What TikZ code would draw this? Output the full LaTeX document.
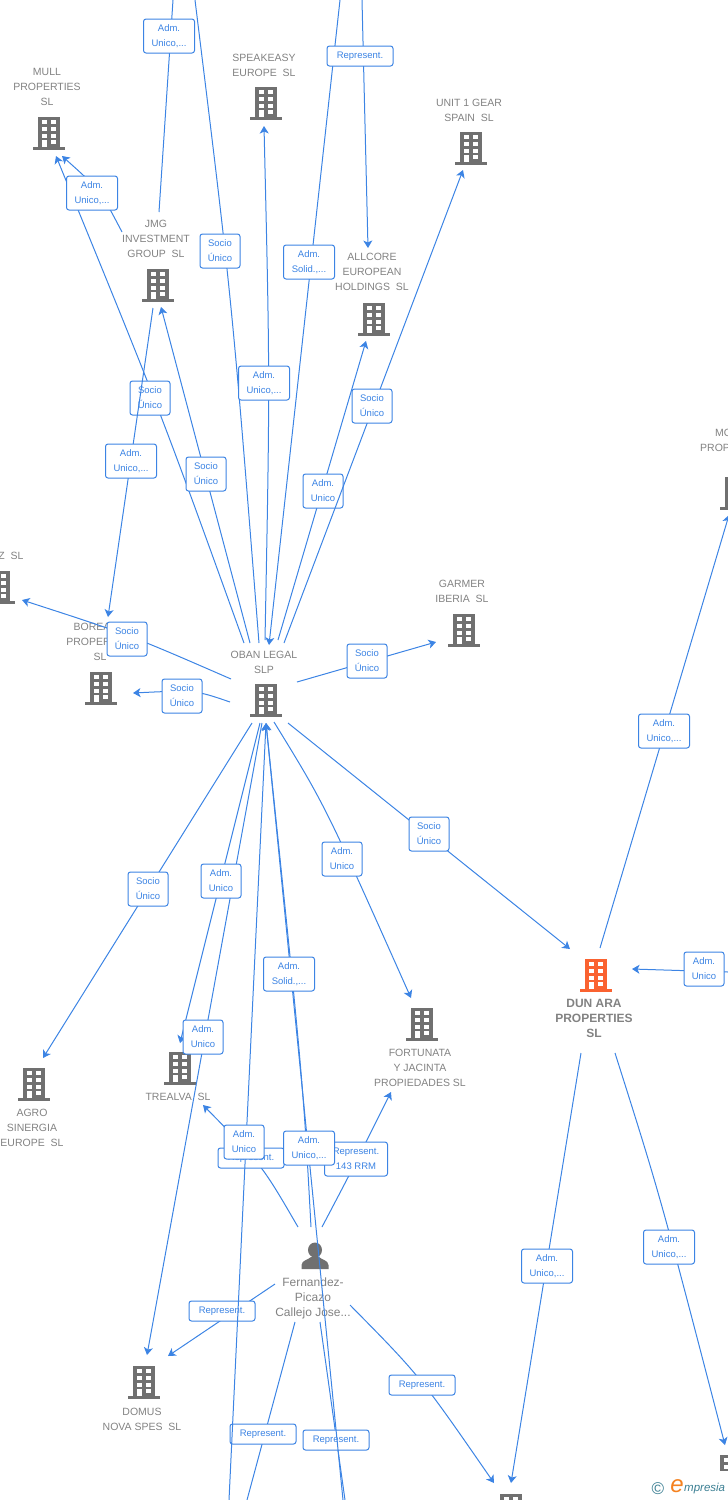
\documentclass[tikz,border=0pt]{standalone}
\usepackage{fontspec}
\setmainfont{Liberation Sans}
\usepackage{xcolor}
\usetikzlibrary{arrows.meta}
\definecolor{link-blue}{HTML}{3C84E4}
\definecolor{icon-grey}{HTML}{707070}
\definecolor{label-grey}{HTML}{828282}
\definecolor{icon-red}{HTML}{FA6230}
\definecolor{logo-teal}{HTML}{3B7F93}
\definecolor{logo-orange}{HTML}{F58220}
\tikzset{
    building/.style = {rectangle, inner sep=0pt, minimum width=32pt, minimum height=34pt, path picture={
        \begin{scope}[shift={(path picture bounding box.center)}]
        \fill[#1] (-11,-16) rectangle (11,14);
        \fill[#1] (-16,14) rectangle (16,17);
        \foreach \rowy in {-13,-6.3,0.5} {
            \fill[white] (-7,\rowy) rectangle (-2,\rowy+4.2);
            \fill[white] (2,\rowy) rectangle (7,\rowy+4.2);
        }
        \fill[white] (-7,7) rectangle (-2,14);
        \fill[white] (2,7) rectangle (7,11);
        \end{scope}
    }},
    building/.default = icon-grey,
    person/.style = {rectangle, inner sep=0pt, minimum width=30pt, minimum height=30pt, path picture={
        \begin{scope}[shift={(path picture bounding box.center)}]
        \fill[icon-grey] (0,-6) ellipse (7 and 7.5);
        \fill[icon-grey] (-13.5,13) -- (-13.5,9) .. controls (-13,4) and (-7,4) .. (-4,1) -- (4,1) .. controls (7,4) and (13,4) .. (13.5,9) -- (13.5,13) -- cycle;
        \end{scope}
    }},
    name-label/.style = {text=label-grey, align=center, inner sep=0pt, font=\fontsize{10.5}{15}\selectfont},
    link/.style = {draw=link-blue, line width=1pt},
    link-tip/.style = {link, -{Stealth[length=7.5pt,width=9pt,inset=2pt]}},
    tag-box/.style = {draw=link-blue, fill=white, line width=1pt, rectangle, rounded corners=2.5pt, text=link-blue, align=center, inner sep=0pt, font=\fontsize{9.5}{15}\selectfont, execute at begin node={\vspace*{1.6pt}}},
    tag-socio/.style = {tag-box, minimum width=40pt, minimum height=34pt},
    tag-adm/.style = {tag-box, minimum width=51pt, minimum height=34pt},
    tag-rep/.style = {tag-box, minimum width=66pt, minimum height=20pt},
}
\begin{document}
\begin{tikzpicture}[x=1pt,y=-1pt]
\useasboundingbox (0,0) rectangle (728,1500);

\node[building] (mull) at (49,133) {};
\node[name-label] (mull-name) at (47,87) {MULL\\PROPERTIES\\SL};
\node[building] (speakeasy) at (266,103) {};
\node[name-label] (speakeasy-name) at (264,65) {SPEAKEASY\\EUROPE\ \ SL};
\node[building] (unit) at (471,148) {};
\node[name-label] (unit-name) at (469,110) {UNIT 1 GEAR\\SPAIN\ \ SL};
\node[building] (jmg) at (158,285) {};
\node[name-label] (jmg-name) at (156,239) {JMG\\INVESTMENT\\GROUP\ \ SL};
\node[building] (allcore) at (374,319) {};
\node[name-label] (allcore-name) at (372,272) {ALLCORE\\EUROPEAN\\HOLDINGS\ \ SL};
\node[building] (zsl) at (-1,587) {};
\node[name-label] (zsl-name) at (11,556) {Z\ \ SL};
\node[building] (garmer) at (464,630) {};
\node[name-label] (garmer-name) at (462,591) {GARMER\\IBERIA\ \ SL};
\node[building] (borealis) at (101,688) {};
\node[name-label] (borealis-name) at (100,642) {BOREALIS\\PROPERTIES\\SL};
\node[building] (oban) at (266,700) {};
\node[name-label] (oban-name) at (264,662) {OBAN LEGAL\\SLP};
\node[building] (moprop) at (736,493) {};
\node[name-label, anchor=west] (moprop-name) at (715,433) {MO};
\node[name-label, anchor=west] (moprop-sub) at (700,448) {PROP};
\node[building] (trealva) at (180,1068) {};
\node[name-label] (trealva-name) at (178,1097) {TREALVA\ \ SL};
\node[building] (fortunata) at (422,1024) {};
\node[name-label] (fortunata-name) at (420,1068) {FORTUNATA\\Y JACINTA\\PROPIEDADES SL};
\node[building] (agro) at (34,1084) {};
\node[name-label] (agro-name) at (32,1128) {AGRO\\SINERGIA\\EUROPE\ \ SL};
\node[building=icon-red] (dunara) at (596,975) {};
\node[name-label, font=\fontsize{12}{15}\selectfont\bfseries] (dunara-name) at (594,1018) {DUN ARA\\PROPERTIES\\SL};
\node[building] (domus) at (144,1382) {};
\node[name-label] (domus-name) at (142,1419) {DOMUS\\NOVA SPES\ \ SL};
\node[building] (lowmid) at (511,1510) {};
\node[building] (lowright) at (731,1471) {};
\node[person] (fernandez) at (315,1256) {};
\node[name-label, font=\fontsize{12}{15}\selectfont] (fernandez-name) at (313,1298) {Fernandez-\\Picazo\\Callejo Jose...};

\coordinate (oban-n1) at (259,643);
\coordinate (oban-n2) at (244,643);
\coordinate (oban-n3) at (250,643);
\coordinate (oban-n4) at (265,640);
\coordinate (oban-n5) at (269,645);
\coordinate (oban-n6) at (278,640);
\coordinate (oban-n7) at (284,643);
\coordinate (oban-w1) at (231,679);
\coordinate (oban-w2) at (230,702);
\coordinate (oban-e1) at (297,682);
\coordinate (oban-s1) at (252,723);
\coordinate (oban-s2) at (260,723);
\coordinate (oban-s3) at (262,723);
\coordinate (oban-s4) at (266,723);
\coordinate (oban-s5) at (274,722);
\coordinate (oban-s6) at (288,723);
\coordinate (top-a) at (195,0);
\coordinate (top-b) at (173,0);
\coordinate (top-c) at (340,0);
\coordinate (top-d) at (362,0);
\coordinate (bot-a) at (229,1500);
\coordinate (bot-b) at (343,1500);
\coordinate (bot-c) at (247,1500);
\coordinate (bot-d) at (345,1500);
\coordinate (mull-s1) at (56,156);
\coordinate (mull-s2) at (62,156);
\coordinate (jmg-n) at (159,212);
\coordinate (jmg-w) at (122,232);
\coordinate (jmg-s1) at (153,308);
\coordinate (jmg-s2) at (161,307);
\coordinate (speakeasy-s) at (264,126);
\coordinate (allcore-n) at (368,248);
\coordinate (allcore-s) at (366,341);
\coordinate (unit-s) at (463,170);
\coordinate (garmer-w) at (436,642);
\coordinate (zsl-e) at (22,600);
\coordinate (borealis-n) at (108,617);
\coordinate (borealis-e) at (133,693);
\coordinate (agro-n) at (43,1058);
\coordinate (trealva-n) at (180,1043);
\coordinate (trealva-s) at (203,1105);
\coordinate (domus-n) at (147,1355);
\coordinate (domus-e) at (168,1356);
\coordinate (fortunata-n) at (411,998);
\coordinate (fortunata-s) at (391,1092);
\coordinate (dunara-nw) at (570,949);
\coordinate (dunara-n) at (600,948);
\coordinate (dunara-e) at (632,969);
\coordinate (dunara-s1) at (581,1053);
\coordinate (dunara-s2) at (615,1053);
\coordinate (moprop-s) at (729,515);
\coordinate (edge-e) at (728,972);
\coordinate (lowmid-n1) at (511,1483);
\coordinate (lowmid-n2) at (494,1483);
\coordinate (lowright-n) at (725,1445);
\coordinate (fer-n1) at (298,1227);
\coordinate (fer-n2) at (311,1227);
\coordinate (fer-n3) at (322,1227);
\coordinate (fer-w) at (275,1284);
\coordinate (fer-e) at (350,1305);
\coordinate (fer-s1) at (295,1322);
\coordinate (fer-s2) at (320,1322);

\draw[link] (oban-n1) .. controls (232,300) .. (top-a);
\node[tag-socio] (tag-top-socio) at (220,251) {Socio\\Único};
\draw[link] (top-b) -- (jmg-n);
\node[tag-adm] (tag-top-adm) at (169,36) {Adm.\\Unico,...};
\draw[link-tip] (top-d) -- (allcore-n);
\draw[link-tip] (top-c) -- (oban-n5);
\node[tag-rep] (tag-top-rep) at (360,56) {Represent.};
\node[tag-adm] (tag-solid-up) at (309,262) {Adm.\\Solid.,...};
\draw[link-tip] (oban-n2) .. controls (160,410) .. (mull-s1);
\node[tag-socio] (tag-mull) at (150,398) {Socio\\Único};
\draw[link-tip] (jmg-w) .. controls (100,190) .. (mull-s2);
\node[tag-adm] (tag-jmg-mull) at (92,193) {Adm.\\Unico,...};
\draw[link-tip] (jmg-s1) -- (borealis-n);
\node[tag-adm] (tag-jmg-boreal) at (131,461) {Adm.\\Unico,...};
\draw[link-tip] (oban-n3) -- (jmg-s2);
\node[tag-socio] (tag-jmg) at (206,474) {Socio\\Único};
\draw[link-tip] (oban-n4) .. controls (270,380) .. (speakeasy-s);
\node[tag-adm] (tag-speakeasy) at (264,383) {Adm.\\Unico,...};
\draw[link-tip] (oban-n6) -- (allcore-s);
\node[tag-socio] (tag-allcore) at (323,491) {Adm.\\Unico};
\draw[link-tip] (oban-n7) -- (unit-s);
\node[tag-socio] (tag-unit) at (372,406) {Socio\\Único};
\draw[link-tip] (oban-e1) -- (garmer-w);
\node[tag-socio] (tag-garmer) at (367,661) {Socio\\Único};
\draw[link-tip] (oban-w1) .. controls (130,635) .. (zsl-e);
\node[tag-socio] (tag-zsl) at (127,639) {Socio\\Único};
\draw[link-tip] (oban-w2) .. controls (195,690) .. (borealis-e);
\node[tag-socio] (tag-boreal) at (182,696) {Socio\\Único};

\draw[link-tip] (oban-s1) -- (agro-n);
\node[tag-socio] (tag-agro) at (148,889) {Socio\\Único};
\draw[link-tip] (oban-s3) -- (domus-n);
\draw[link-tip] (oban-s2) -- (trealva-n);
\node[tag-socio] (tag-domus) at (221,881) {Adm.\\Unico};
\node[tag-socio] (tag-trealva) at (203,1037) {Adm.\\Unico};
\draw[link-tip] (oban-s5) .. controls (325,805) .. (fortunata-n);
\node[tag-socio] (tag-fortunata) at (342,859) {Adm.\\Unico};
\draw[link-tip] (oban-s6) -- (dunara-nw);
\node[tag-socio] (tag-dunara) at (429,834) {Socio\\Único};

\draw[link-tip] (fer-n1) .. controls (262,1165) .. (trealva-s);
\node[tag-rep] (tag-fer-trealva) at (251,1158) {Represent.};
\draw[link-tip] (fer-n3) .. controls (352,1170) .. (fortunata-s);
\node[tag-rep, minimum width=63pt, minimum height=34pt] (tag-fer-fortunata) at (356,1159) {Represent.\\143 RRM};
\draw[link-tip] (fer-w) -- (domus-e);
\node[tag-rep] (tag-fer-domus) at (222,1311) {Represent.};
\draw[link-tip] (fer-e) .. controls (420,1376) .. (lowmid-n2);
\node[tag-rep] (tag-fer-low) at (422,1385) {Represent.};
\draw[link] (fer-s1) -- (bot-c);
\node[tag-rep] (tag-fer-bot1) at (263,1434) {Represent.};
\draw[link] (fer-s2) -- (bot-d);
\node[tag-rep] (tag-fer-bot2) at (336,1440) {Represent.};
\draw[link-tip] (bot-a) -- (oban-s4);
\node[tag-socio] (tag-bot-oban) at (244,1142) {Adm.\\Unico};
\draw[link-tip] (bot-b) -- (oban-s4);
\draw[link-tip] (fer-n2) .. controls (303,1080) .. (oban-s4);
\node[tag-adm] (tag-solid-low) at (289,974) {Adm.\\Solid.,...};
\node[tag-adm] (tag-fer-oban) at (309,1148) {Adm.\\Unico,...};

\draw[link-tip] (dunara-n) -- (moprop-s);
\node[tag-adm] (tag-moprop) at (664,731) {Adm.\\Unico,...};
\draw[link-tip] (edge-e) -- (dunara-e);
\node[tag-socio] (tag-edge) at (704,969) {Adm.\\Unico};
\draw[link-tip] (dunara-s1) -- (lowmid-n1);
\node[tag-adm] (tag-lowmid) at (547,1266) {Adm.\\Unico,...};
\draw[link-tip] (dunara-s2) .. controls (660,1195) .. (lowright-n);
\node[tag-adm] (tag-lowright) at (669,1247) {Adm.\\Unico,...};

\node[fill=white, inner sep=0pt, minimum width=83pt, minimum height=29pt] (logo-back) at (686.5,1485.5) {};
\node[text=logo-teal, inner sep=0pt, font=\fontsize{17}{17}\selectfont] (logo-c) at (658,1489) {©};
\node[text=logo-orange, inner sep=0pt, font=\fontsize{24}{24}\selectfont\itshape] (logo-e) at (677,1486) {e};
\node[text=logo-teal, inner sep=0pt, anchor=west, font=\fontsize{11.5}{12}\selectfont\itshape] (logo-text) at (684,1489) {mpresia};
\end{tikzpicture}
\end{document}
